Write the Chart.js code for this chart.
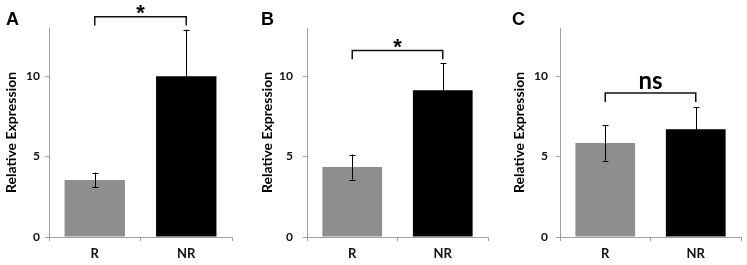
<!DOCTYPE html>
<html>
<head>
<meta charset="utf-8">
<script src="https://cdn.jsdelivr.net/npm/chart.js@4"></script>
<style>
  body { margin: 0; background: #fff; }
  #wrap { position: relative; width: 747px; height: 265px; }
  canvas { position: absolute; top: 0; }
  .letter { position: absolute; font: bold 18px "Liberation Sans", Arial, sans-serif; color: #000; }
</style>
</head>
<body>
<div id="wrap">
  <canvas id="chartA" width="250" height="265" style="left:0"></canvas>
  <canvas id="chartB" width="250" height="265" style="left:250px"></canvas>
  <canvas id="chartC" width="247" height="265" style="left:500px"></canvas>
  <div class="letter" style="left:6px;top:9px">A</div>
  <div class="letter" style="left:261px;top:9px">B</div>
  <div class="letter" style="left:512px;top:9px">C</div>
</div>
<script>
const categories = ['R', 'NR'];
const barColors = ['#8e8e8e', '#000000'];

// means and error (SD) per panel
const meanA = [3.55, 10.0];
const errA = [0.45, 2.9];
const meanB = [4.35, 9.13];
const errB = [0.78, 1.68];
const meanC = [5.84, 6.7];
const errC = [1.1, 1.37];

// significance brackets (in y units)
const sigText = ['*', '*', 'ns'];
const bracketLevel = [13.7, 11.6, 8.95];

const yMax = 13;
const yTicks = [0, 5, 10];

const errorBarPlugin = {
  id: 'errorBars',
  afterDatasetsDraw(chart, args, opts) {
    const ctx = chart.ctx;
    const y = chart.scales.y;
    const meta = chart.getDatasetMeta(0);
    const data = chart.data.datasets[0].data;
    ctx.save();
    ctx.strokeStyle = '#000';
    ctx.lineWidth = 1;
    meta.data.forEach((bar, i) => {
      const hi = y.getPixelForValue(data[i] + opts.err[i]);
      const lo = y.getPixelForValue(data[i] - opts.err[i]);
      const x = Math.round(bar.x) + 0.5;
      ctx.beginPath();
      ctx.moveTo(x, hi); ctx.lineTo(x, lo);
      ctx.moveTo(x - 3, Math.round(hi) + 0.5); ctx.lineTo(x + 3, Math.round(hi) + 0.5);
      ctx.moveTo(x - 3, Math.round(lo) + 0.5); ctx.lineTo(x + 3, Math.round(lo) + 0.5);
      ctx.stroke();
    });

    // bracket
    const x0 = meta.data[0].x, x1 = meta.data[1].x;
    const by = y.getPixelForValue(opts.level);
    const legs = y.getPixelForValue(opts.level - 0.55);
    ctx.lineWidth = 1.5;
    ctx.strokeStyle = '#111';
    ctx.beginPath();
    ctx.moveTo(x0, legs); ctx.lineTo(x0, by); ctx.lineTo(x1, by); ctx.lineTo(x1, legs);
    ctx.stroke();

    ctx.fillStyle = '#000';
    ctx.textAlign = 'center';
    ctx.textBaseline = 'alphabetic';
    if (opts.text === '*') {
      ctx.font = 'bold 22px "Liberation Sans", Arial, sans-serif';
      ctx.fillText(opts.text, (x0 + x1) / 2, by + 3);
    } else {
      ctx.font = 'bold 24px Lato, sans-serif';
      ctx.fillText(opts.text, (x0 + x1) / 2, by - 4);
    }
    ctx.restore();
  }
};

function makeChart(id, means, errs, idx, layout) {
  const ctx = document.getElementById(id);
  return new Chart(ctx, {
    type: 'bar',
    data: {
      labels: categories,
      datasets: [{
        data: means,
        backgroundColor: barColors,
        borderWidth: 0,
        barPercentage: 0.66,
        categoryPercentage: 1.0
      }]
    },
    options: {
      responsive: false,
      animation: false,
      devicePixelRatio: 1,
      layout: {
        padding: { top: 28, right: layout.right, left: 0, bottom: 0 }
      },
      plugins: {
        legend: { display: false },
        tooltip: { enabled: false },
        errorBars: { err: errs, level: bracketLevel[idx], text: sigText[idx] }
      },
      scales: {
        x: {
          afterFit(scale) { scale.height = 28; },
          border: { color: '#a0a0a0', width: 1 },
          grid: { drawOnChartArea: false, tickLength: 4, color: '#a0a0a0', offset: true },
          ticks: {
            padding: 5,
            color: '#111',
            font: { family: 'Lato', size: 13, weight: 'bold' }
          }
        },
        y: {
          min: 0,
          max: yMax,
          afterFit(scale) { scale.width = layout.left; },
          afterBuildTicks(scale) { scale.ticks = yTicks.map(v => ({ value: v })); },
          border: { color: '#a0a0a0', width: 1 },
          grid: { drawOnChartArea: false, tickLength: 4, color: '#a0a0a0' },
          ticks: {
            padding: layout.tickPad,
            color: '#111',
            font: { family: 'Lato', size: 12, weight: 'bold' }
          },
          title: {
            display: true,
            text: 'Relative Expression',
            color: '#000',
            padding: { top: layout.titlePad, bottom: 0 },
            font: { family: 'Lato', size: 14, weight: 'bold' }
          }
        }
      }
    },
    plugins: [errorBarPlugin]
  });
}

makeChart('chartA', meanA, errA, 0, { left: 49, right: 18, tickPad: 5, titlePad: 3 });
makeChart('chartB', meanB, errB, 1, { left: 57, right: 12, tickPad: 10, titlePad: 9 });
makeChart('chartC', meanC, errC, 2, { left: 60, right: 6, tickPad: 8, titlePad: 11 });
</script>
</body>
</html>
